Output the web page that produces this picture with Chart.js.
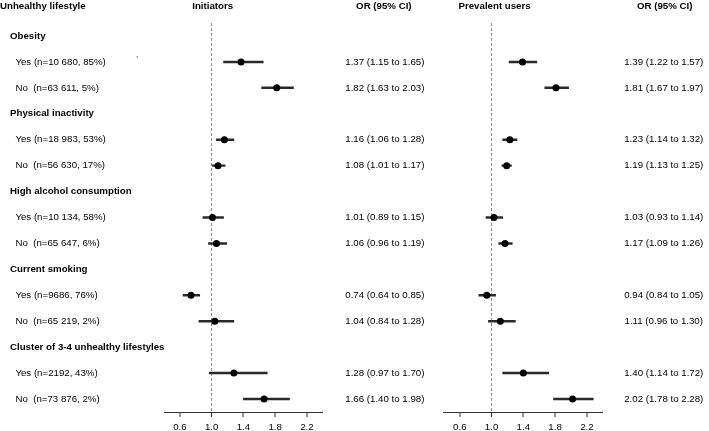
<!DOCTYPE html>
<html>
<head>
<meta charset="utf-8">
<script src="https://cdn.jsdelivr.net/npm/chart.js@4.4.1/dist/chart.umd.min.js"></script>
<style>
  html, body { margin: 0; padding: 0; background: #fff; }
  canvas { display: block; }
</style>
</head>
<body>
<canvas id="forest" width="709" height="431"></canvas>
<script>
// Rows, top to bottom. Group headers have no estimate (null below)
const rowLabels = [
  'Obesity', 'Yes (n=10 680, 85%)', 'No  (n=63 611, 5%)',
  'Physical inactivity', 'Yes (n=18 983, 53%)', 'No  (n=56 630, 17%)',
  'High alcohol consumption', 'Yes (n=10 134, 58%)', 'No  (n=65 647, 6%)',
  'Current smoking', 'Yes (n=9686, 76%)', 'No  (n=65 219, 2%)',
  'Cluster of 3-4 unhealthy lifestyles', 'Yes (n=2192, 43%)', 'No  (n=73 876, 2%)'
];

// Initiators: OR and 95% CI
const initOR   = [null, 1.37, 1.82, null, 1.16, 1.08, null, 1.01, 1.06, null, 0.74, 1.04, null, 1.28, 1.66];
const initLow  = [null, 1.15, 1.63, null, 1.06, 1.01, null, 0.89, 0.96, null, 0.64, 0.84, null, 0.97, 1.40];
const initHigh = [null, 1.65, 2.03, null, 1.28, 1.17, null, 1.15, 1.19, null, 0.85, 1.28, null, 1.70, 1.98];

// Prevalent users: OR and 95% CI
const prevOR   = [null, 1.39, 1.81, null, 1.23, 1.19, null, 1.03, 1.17, null, 0.94, 1.11, null, 1.40, 2.02];
const prevLow  = [null, 1.22, 1.67, null, 1.14, 1.13, null, 0.93, 1.09, null, 0.84, 0.96, null, 1.14, 1.78];
const prevHigh = [null, 1.57, 1.97, null, 1.32, 1.25, null, 1.14, 1.26, null, 1.05, 1.30, null, 1.72, 2.28];

const xTicks = [0.6, 1.0, 1.4, 1.8, 2.2];
const xMin = 0.4;
const xMax = 2.4;

const FONT = '"Liberation Sans", Arial, Helvetica, sans-serif';
const FONT_SIZE = 9.7;
Chart.defaults.font.family = FONT;
Chart.defaults.font.size = FONT_SIZE;
Chart.defaults.color = '#000';

const isHeader = i => initOR[i] === null;

// helpers to turn the arrays into datasets
function ciBars(low, high) {
  return low.map((v, i) => (v === null ? null : [v, high[i]]));
}
function points(or) {
  return or.map((v, i) => (v === null ? null : { x: v, y: rowLabels[i] })).filter(p => p);
}
function orText(or, low, high, i) {
  return `${or[i].toFixed(2)} (${low[i].toFixed(2)} to ${high[i].toFixed(2)})`;
}

// one x axis per panel, stacked side by side with spacer axes for the text columns
function panelAxis(weight) {
  return {
    type: 'linear',
    position: 'bottom',
    stack: 'panels',
    stackWeight: weight,
    offset: false,
    beginAtZero: false,
    min: xMin,
    max: xMax,
    afterBuildTicks: s => { s.ticks = xTicks.map(v => ({ value: v })); },
    afterFit: s => { s.height = 19; },
    grid: {
      offset: false,
      drawOnChartArea: true,
      color: c => (c.tick && c.tick.value === 1 ? '#8c8c8c' : 'rgba(0,0,0,0)'),
      lineWidth: c => (c.tick && c.tick.value === 1 ? 1 : 0),
      drawTicks: true,
      tickLength: 5,
      tickColor: '#333',
      tickWidth: 1,
      tickBorderDash: []
    },
    border: { display: true, color: '#333', width: 1, dash: [3, 2] },
    ticks: {
      padding: 5,
      maxRotation: 0,
      autoSkip: false,
      color: '#000',
      callback: v => Number(v).toFixed(1)
    }
  };
}
function spacerAxis(weight) {
  return {
    type: 'linear',
    position: 'bottom',
    stack: 'panels',
    stackWeight: weight,
    offset: false,
    afterFit: s => { s.height = 19; },
    grid: { display: false, offset: false },
    border: { display: false },
    ticks: { display: false }
  };
}

// headers and OR (95% CI) columns
const textPlugin = {
  id: 'forestText',
  afterDraw(chart) {
    const { ctx, scales } = chart;
    const colInit = scales.sp1.left + 62;
    const colPrev = scales.sp2.left + 61;
    ctx.save();
    ctx.fillStyle = '#000';
    ctx.textBaseline = 'middle';

    ctx.font = `bold ${FONT_SIZE}px ${FONT}`;
    ctx.textAlign = 'left';
    ctx.fillText('Unhealthy lifestyle', 0, 6);
    ctx.textAlign = 'center';
    ctx.fillText('Initiators', scales.x.getPixelForValue(1) + 1, 6);
    ctx.fillText('OR (95% CI)', colInit - 1, 6);
    ctx.fillText('Prevalent users', scales.x2.getPixelForValue(1) + 3, 6);
    ctx.fillText('OR (95% CI)', colPrev + 1, 6);

    ctx.font = `${FONT_SIZE}px ${FONT}`;
    rowLabels.forEach((_, i) => {
      if (isHeader(i)) return;
      const y = scales.y.getPixelForValue(i);
      ctx.fillText(orText(initOR, initLow, initHigh, i), colInit, y);
      ctx.fillText(orText(prevOR, prevLow, prevHigh, i), colPrev, y);
    });

    // stray comma that is in the original figure
    ctx.fillStyle = '#666';
    ctx.fillText(',', 137, scales.y.getPixelForValue(1) - 8);
    ctx.restore();
  }
};

const ciStyle = {
  type: 'bar',
  indexAxis: 'y',
  yAxisID: 'y',
  grouped: false,
  barThickness: 1.8,
  backgroundColor: '#2a2a2a',
  borderWidth: 0,
  order: 2
};
const pointStyle = {
  type: 'scatter',
  yAxisID: 'y',
  backgroundColor: '#000',
  borderColor: '#000',
  borderWidth: 0,
  pointRadius: 3.5,
  order: 0
};

new Chart(document.getElementById('forest'), {
  type: 'bar',
  data: {
    labels: rowLabels,
    datasets: [
      { ...ciStyle, label: 'Initiators CI', xAxisID: 'x', data: ciBars(initLow, initHigh) },
      { ...ciStyle, label: 'Prevalent users CI', xAxisID: 'x2', data: ciBars(prevLow, prevHigh) },
      { ...pointStyle, label: 'Initiators', xAxisID: 'x', data: points(initOR) },
      { ...pointStyle, label: 'Prevalent users', xAxisID: 'x2', data: points(prevOR) }
    ]
  },
  options: {
    responsive: false,
    animation: false,
    devicePixelRatio: 1,
    layout: { padding: { top: 23, left: 10, right: 0, bottom: 0 } },
    plugins: { legend: { display: false }, tooltip: { enabled: false } },
    scales: {
      y: {
        type: 'category',
        position: 'left',
        offset: true,
        afterFit: s => { s.width = 154; },
        grid: { display: false },
        border: { display: false },
        ticks: {
          autoSkip: false,
          crossAlign: 'far',
          padding: 0,
          color: '#000',
          font: c => ({ family: FONT, size: FONT_SIZE, weight: isHeader(c.index) ? 'bold' : 'normal' }),
          callback: (v, i) => (isHeader(i) ? rowLabels[i] : '  ' + rowLabels[i])
        }
      },
      x: { ...panelAxis(160), weight: 1 },
      sp1: { ...spacerAxis(122), weight: 2 },
      x2: { ...panelAxis(160), weight: 3 },
      sp2: { ...spacerAxis(103), weight: 4 }
    }
  },
  plugins: [textPlugin]
});
</script>
</body>
</html>
